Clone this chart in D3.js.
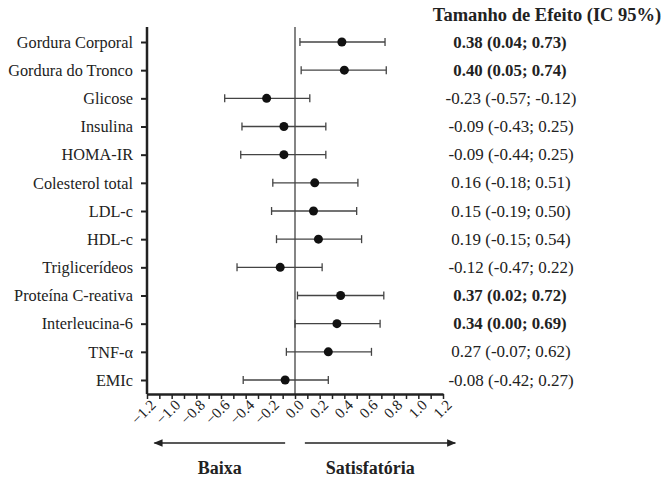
<!DOCTYPE html>
<meta charset="utf-8">
<style>
body { margin: 0; background: white; }
text { font-family: "Liberation Serif", "Times New Roman", serif; fill: #222; }
</style>
<body>
<script src="https://cdn.jsdelivr.net/npm/d3@7"></script>
<script>
var outcomes = ['Gordura Corporal', 'Gordura do Tronco', 'Glicose', 'Insulina', 'HOMA-IR',
    'Colesterol total', 'LDL-c', 'HDL-c', 'Triglicerídeos', 'Proteína C-reativa',
    'Interleucina-6', 'TNF-α', 'EMIc']
var effect = [0.38, 0.40, -0.23, -0.09, -0.09, 0.16, 0.15, 0.19, -0.12, 0.37, 0.34, 0.27, -0.08]
var lower = [0.04, 0.05, -0.57, -0.43, -0.44, -0.18, -0.19, -0.15, -0.47, 0.02, 0.00, -0.07, -0.42]
var upper = [0.73, 0.74, 0.12, 0.25, 0.25, 0.51, 0.50, 0.54, 0.22, 0.72, 0.69, 0.62, 0.27]
var ciLabels = ['0.38 (0.04; 0.73)', '0.40 (0.05; 0.74)', '-0.23 (-0.57; -0.12)', '-0.09 (-0.43; 0.25)',
    '-0.09 (-0.44; 0.25)', '0.16 (-0.18; 0.51)', '0.15 (-0.19; 0.50)', '0.19 (-0.15; 0.54)',
    '-0.12 (-0.47; 0.22)', '0.37 (0.02; 0.72)', '0.34 (0.00; 0.69)', '0.27 (-0.07; 0.62)',
    '-0.08 (-0.42; 0.27)']
var significant = [true, true, false, false, false, false, false, false, false, true, true, false, false]
var xTicks = d3.range(-12, 13).map(function (d) { return d / 10 })

var width = 670
var height = 478

var svg = d3.select('body').append('svg')
    .attr('width', width)
    .attr('height', height)

var x = d3.scaleLinear().domain([-1.2, 1.2]).range([147, 443])
var y = d3.scalePoint().domain(outcomes).range([42, 380])

var rows = outcomes.map(function (name, i) {
    return { name: name, est: effect[i], lo: lower[i], hi: upper[i], label: ciLabels[i], bold: significant[i] }
})

// zero line
svg.append('line')
    .attr('x1', x(0)).attr('x2', x(0))
    .attr('y1', 27).attr('y2', 394)
    .attr('stroke', '#333').attr('stroke-width', 1.2)

// y axis
var yAxis = svg.append('g')
    .attr('transform', 'translate(' + x(-1.2) + ',0)')
    .call(d3.axisLeft(y).tickSize(6).tickPadding(8).tickSizeOuter(0))
yAxis.select('.domain').attr('d', 'M0,27V394').attr('stroke', '#222').attr('stroke-width', 2.5)
yAxis.selectAll('.tick line').attr('stroke', '#222').attr('stroke-width', 2)
yAxis.selectAll('.tick text')
    .style('font-family', '"Liberation Serif", serif')
    .style('font-size', '16.3px')
    .attr('fill', '#222')

// x axis
var xAxis = svg.append('g')
    .attr('transform', 'translate(0,394)')
    .call(d3.axisBottom(x).tickValues(xTicks).tickSize(5).tickSizeOuter(0)
        .tickFormat(function (d, i) { return i % 2 === 0 ? d3.format('.1f')(d) : '' }))
xAxis.select('.domain').attr('stroke', '#222').attr('stroke-width', 2.5)
xAxis.selectAll('.tick line').attr('stroke', '#222').attr('stroke-width', 1.5)
xAxis.selectAll('.tick text')
    .style('font-family', '"Liberation Serif", serif')
    .style('font-size', '15px')
    .attr('fill', '#333')
    .attr('text-anchor', 'end')
    .attr('transform', 'rotate(-45)')
    .attr('dx', '-2')
    .attr('dy', '9')
    .attr('y', 6)

// error bars
var bars = svg.append('g').selectAll('g')
    .data(rows)
    .enter().append('g')

bars.append('line')
    .attr('x1', function (d) { return x(d.lo) })
    .attr('x2', function (d) { return x(d.hi) })
    .attr('y1', function (d) { return y(d.name) })
    .attr('y2', function (d) { return y(d.name) })
    .attr('stroke', '#444').attr('stroke-width', 1.3)

bars.selectAll('.cap')
    .data(function (d) { return [[d.lo, d.name], [d.hi, d.name]] })
    .enter().append('line')
    .attr('x1', function (d) { return x(d[0]) })
    .attr('x2', function (d) { return x(d[0]) })
    .attr('y1', function (d) { return y(d[1]) - 4 })
    .attr('y2', function (d) { return y(d[1]) + 4 })
    .attr('stroke', '#444').attr('stroke-width', 1.3)

bars.append('circle')
    .attr('cx', function (d) { return x(d.est) })
    .attr('cy', function (d) { return y(d.name) })
    .attr('r', 4.5)
    .attr('fill', '#111')

// right column
svg.append('text')
    .attr('x', 547).attr('y', 21)
    .attr('text-anchor', 'middle')
    .style('font-size', '18.5px')
    .style('font-weight', 'bold')
    .attr('fill', '#111')
    .text('Tamanho de Efeito (IC 95%)')

svg.append('g').selectAll('text')
    .data(rows)
    .enter().append('text')
    .attr('x', function (d) { return d.bold ? 510 : 511 })
    .attr('y', function (d) { return y(d.name) + 5.5 })
    .attr('text-anchor', 'middle')
    .style('font-size', function (d) { return d.bold ? '16.8px' : '17px' })
    .style('font-weight', function (d) { return d.bold ? 'bold' : 'normal' })
    .attr('fill', function (d) { return d.bold ? '#111' : '#333' })
    .text(function (d) { return d.label })

// direction arrows
var defs = svg.append('defs')
defs.append('marker')
    .attr('id', 'arrow')
    .attr('viewBox', '0 0 10 10')
    .attr('refX', 9).attr('refY', 5)
    .attr('markerWidth', 7).attr('markerHeight', 7)
    .attr('orient', 'auto-start-reverse')
    .append('path')
    .attr('d', 'M0,1L10,5L0,9Z')
    .attr('fill', '#222')

svg.append('line')
    .attr('x1', x(-0.08)).attr('x2', x(-1.14))
    .attr('y1', 443).attr('y2', 443)
    .attr('stroke', '#222').attr('stroke-width', 1.3)
    .attr('marker-end', 'url(#arrow)')

svg.append('line')
    .attr('x1', x(0.08)).attr('x2', x(1.3))
    .attr('y1', 443).attr('y2', 443)
    .attr('stroke', '#222').attr('stroke-width', 1.3)
    .attr('marker-end', 'url(#arrow)')

svg.append('text')
    .attr('x', x(-0.61)).attr('y', 474)
    .attr('text-anchor', 'middle')
    .style('font-size', '18px').style('font-weight', 'bold')
    .attr('fill', '#111')
    .text('Baixa')

svg.append('text')
    .attr('x', x(0.61)).attr('y', 474)
    .attr('text-anchor', 'middle')
    .style('font-size', '18px').style('font-weight', 'bold')
    .attr('fill', '#111')
    .text('Satisfatória')
</script>
</body>
